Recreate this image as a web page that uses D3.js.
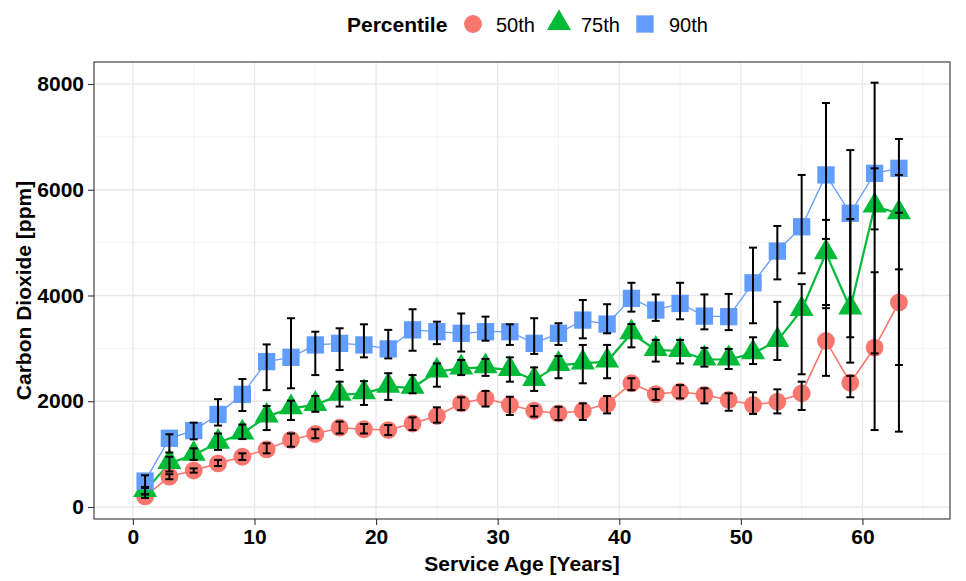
<!DOCTYPE html>
<html>
<head>
<meta charset="utf-8">
<script src="https://cdn.jsdelivr.net/npm/d3@7"></script>
<style>
  body { margin: 0; background: #fff; }
  text { font-family: "Liberation Sans", Arial, sans-serif; }
</style>
</head>
<body>
<svg id="chart" width="966" height="581"></svg>
<script>
// service age (years), one point every 2 years
var ages = [1,3,5,7,9,11,13,15,17,19,21,23,25,27,29,31,33,35,37,39,41,43,45,47,49,51,53,55,57,59,61,63];

// 50th percentile with error bar ends
var p50   = [200,575,690,825,950,1090,1270,1380,1500,1470,1455,1580,1720,1960,2055,1930,1820,1770,1820,1950,2340,2135,2180,2120,2025,1930,1990,2150,3140,2350,3015,3870];
var p50lo = [170,525,650,775,890,1015,1140,1300,1390,1390,1360,1455,1595,1835,1900,1740,1710,1645,1645,1770,2210,2025,2055,1960,1820,1760,1770,1835,2480,2075,1455,1425];
var p50hi = [240,620,730,890,1015,1205,1390,1470,1615,1570,1550,1695,1885,2075,2195,2085,1910,1895,1960,2100,2435,2230,2305,2245,2150,2170,2225,2370,3820,2480,4440,4495];

// 75th percentile
var p75   = [300,830,985,1215,1390,1710,1865,1930,2120,2150,2275,2255,2560,2620,2640,2590,2400,2685,2715,2750,3285,2970,2950,2790,2790,2905,3140,3725,4800,3755,5680,5555];
var p75lo = [240,670,890,1080,1285,1455,1645,1800,1900,1930,2025,2150,2275,2495,2480,2370,2195,2435,2340,2435,3020,2750,2715,2655,2610,2705,2780,2510,3760,2730,2905,2685];
var p75hi = [360,950,1110,1390,1560,1910,2010,2100,2370,2380,2530,2495,2715,2780,2800,2830,2640,2855,3065,3065,3460,3160,3160,3010,2990,3210,3880,4215,5430,5445,6405,6280];

// 90th percentile
var p90   = [490,1300,1445,1750,2130,2750,2830,3065,3095,3065,2990,3350,3315,3285,3315,3315,3095,3285,3535,3460,3945,3725,3850,3610,3600,4240,4840,5300,6280,5555,6310,6405];
var p90lo = [380,1030,1280,1540,1815,2210,2245,2495,2590,2830,2810,2955,3080,2940,3145,3065,2895,3065,3190,3285,3695,3520,3550,3360,3345,3475,4305,4420,5070,3210,5250,5565];
var p90hi = [600,1375,1595,2040,2420,3075,3570,3315,3380,3455,3350,3740,3505,3660,3600,3455,3570,3475,3915,3835,4240,4020,4240,4020,4030,4905,5315,6280,7640,6750,8025,6960];

var seriesNames = ["50th", "75th", "90th"];
var xTicks = [0,10,20,30,40,50,60];
var xMinor = [5,15,25,35,45,55,65];
var yTicks = [0,2000,4000,6000,8000];
var yMinor = [1000,3000,5000,7000];

var colors = {"50th": "#F8766D", "75th": "#00BA38", "90th": "#619CFF"};
var lineW  = {"50th": 1.6, "75th": 2.2, "90th": 1.3};

var series = [
  {name: "50th", shape: "circle",   v: p50, lo: p50lo, hi: p50hi},
  {name: "75th", shape: "triangle", v: p75, lo: p75lo, hi: p75hi},
  {name: "90th", shape: "square",   v: p90, lo: p90lo, hi: p90hi}
];

var svg = d3.select("#chart");
var panel = {left: 94, right: 950, top: 62, bottom: 519};

var x = d3.scaleLinear().domain([-3.2, 67.2]).range([panel.left, panel.right]);
var y = d3.scaleLinear().domain([-227, 8416]).range([panel.bottom, panel.top]);

// grid
var grid = svg.append("g");
grid.selectAll(".ymin").data(yMinor).enter().append("line")
  .attr("x1", panel.left).attr("x2", panel.right)
  .attr("y1", function(d){ return y(d); }).attr("y2", function(d){ return y(d); })
  .attr("stroke", "#F0F0F0").attr("stroke-width", 0.9);
grid.selectAll(".xmin").data(xMinor).enter().append("line")
  .attr("y1", panel.top).attr("y2", panel.bottom)
  .attr("x1", function(d){ return x(d); }).attr("x2", function(d){ return x(d); })
  .attr("stroke", "#F0F0F0").attr("stroke-width", 0.9);
grid.selectAll(".ymaj").data(yTicks).enter().append("line")
  .attr("x1", panel.left).attr("x2", panel.right)
  .attr("y1", function(d){ return y(d); }).attr("y2", function(d){ return y(d); })
  .attr("stroke", "#E8E8E8").attr("stroke-width", 1.3);
grid.selectAll(".xmaj").data(xTicks).enter().append("line")
  .attr("y1", panel.top).attr("y2", panel.bottom)
  .attr("x1", function(d){ return x(d); }).attr("x2", function(d){ return x(d); })
  .attr("stroke", "#E8E8E8").attr("stroke-width", 1.3);

// lines
var line = d3.line()
  .x(function(d){ return x(d.age); })
  .y(function(d){ return y(d.val); });

series.forEach(function(s) {
  var pts = ages.map(function(a, i){ return {age: a, val: s.v[i]}; });
  svg.append("path").datum(pts)
    .attr("d", line)
    .attr("fill", "none")
    .attr("stroke", colors[s.name])
    .attr("stroke-width", lineW[s.name]);
});

// markers
var sym = {
  circle: d3.symbol().type(d3.symbolCircle).size(250),
  triangle: d3.symbol().type(d3.symbolTriangle).size(250),
  square: d3.symbol().type(d3.symbolSquare).size(300)
};
function drawMarker(g, shape, cx, cy, col) {
  var p = g.append("path").attr("d", sym[shape]()).attr("fill", col)
    .attr("transform", "translate(" + cx + "," + (shape == "triangle" ? cy - 1 : cy) + ")");
  return p;
}

series.forEach(function(s) {
  var g = svg.append("g");
  ages.forEach(function(a, i) {
    drawMarker(g, s.shape, x(a), y(s.v[i]), colors[s.name]);
  });
});

// error bars on top
var capW = 4;
series.forEach(function(s) {
  var g = svg.append("g").attr("stroke", "#000").attr("stroke-width", 2).attr("fill", "none");
  ages.forEach(function(a, i) {
    var cx = x(a), y0 = y(s.lo[i]), y1 = y(s.hi[i]);
    g.append("line").attr("x1", cx).attr("x2", cx).attr("y1", y0).attr("y2", y1);
    g.append("line").attr("x1", cx - capW).attr("x2", cx + capW).attr("y1", y0).attr("y2", y0);
    g.append("line").attr("x1", cx - capW).attr("x2", cx + capW).attr("y1", y1).attr("y2", y1);
  });
});

// panel border
svg.append("rect")
  .attr("x", panel.left).attr("y", panel.top)
  .attr("width", panel.right - panel.left).attr("height", panel.bottom - panel.top)
  .attr("fill", "none").attr("stroke", "#333").attr("stroke-width", 1.1);

// axes
var xAxis = d3.axisBottom(x).tickValues(xTicks).tickSize(6).tickPadding(4);
var yAxis = d3.axisLeft(y).tickValues(yTicks).tickFormat(d3.format("d")).tickSize(6).tickPadding(4);

var gx = svg.append("g").attr("transform", "translate(0," + panel.bottom + ")").call(xAxis);
var gy = svg.append("g").attr("transform", "translate(" + panel.left + ",0)").call(yAxis);
[gx, gy].forEach(function(g) {
  g.select(".domain").remove();
  g.selectAll(".tick line").attr("stroke", "#333").attr("stroke-width", 1.1);
  g.selectAll(".tick text")
    .attr("fill", "#000")
    .style("font-size", "21px")
    .style("font-weight", "bold")
    .style("font-family", "'Liberation Sans', Arial, sans-serif");
});

// axis titles
svg.append("text")
  .attr("x", (panel.left + panel.right) / 2).attr("y", 571)
  .attr("text-anchor", "middle")
  .style("font-size", "21px").style("font-weight", "bold")
  .text("Service Age [Years]");

svg.append("text")
  .attr("transform", "translate(31," + ((panel.top + panel.bottom) / 2) + ") rotate(-90)")
  .attr("text-anchor", "middle")
  .style("font-size", "21px").style("font-weight", "bold")
  .text("Carbon Dioxide [ppm]");

// legend
var leg = svg.append("g");
leg.append("text").attr("x", 347).attr("y", 32)
  .style("font-size", "21px").style("font-weight", "bold")
  .text("Percentile");

var legKeys = [
  {name: "50th", shape: "circle", kx: 473, tx: 496},
  {name: "75th", shape: "triangle", kx: 559, tx: 581},
  {name: "90th", shape: "square", kx: 645, tx: 669}
];
legKeys.forEach(function(k) {
  drawMarker(leg, k.shape, k.kx, 24, colors[k.name]);
  leg.append("text").attr("x", k.tx).attr("y", 32)
    .style("font-size", "20px")
    .text(k.name);
});
</script>
</body>
</html>
